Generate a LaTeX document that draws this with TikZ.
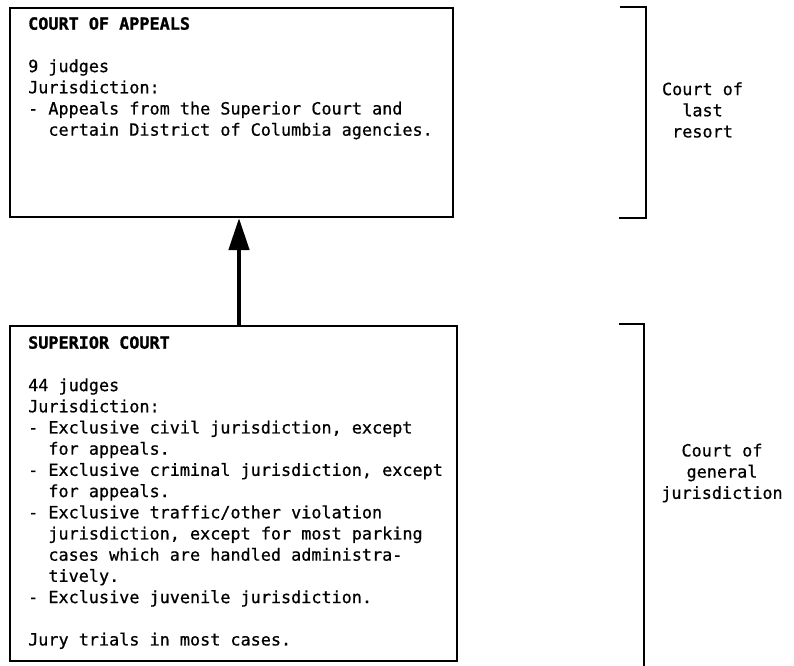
\documentclass[tikz,border=0pt]{standalone}
\usepackage{fontspec}
\newfontfamily\courtfont[FakeBold=0.7,BoldFeatures={FakeBold=1.2}]{DejaVu Sans Mono}
\usetikzlibrary{arrows.meta}
\begin{document}
\begin{tikzpicture}[x=1pt,y=-1pt,
  every node/.style={font=\courtfont\fontsize{16.8}{21.2}\selectfont},
  courtbox/.style={draw,line width=2pt,rectangle,inner sep=0pt},
  boxtext/.style={anchor=north west,align=left,inner sep=0pt},
  bracket/.style={line width=2.4pt},
  tierlabel/.style={align=center,inner sep=0pt},
  appeal/.style={line width=4.5pt,-{Triangle[width=20pt,length=32pt]}}]
\useasboundingbox (0,0) rectangle (794,665);

% court boxes
\node[courtbox,minimum width=443pt,minimum height=209pt] (appeals) at (231.5,112.5) {};
\node[courtbox,minimum width=447pt,minimum height=335pt] (superior) at (233.5,493.5) {};

% box contents
\node[boxtext] (appealstext) at (28,17) {%
{\bfseries COURT OF APPEALS}\\[21.2pt]
9 judges\\
Jurisdiction:\\
- Appeals from the Superior Court and\\
\phantom{- }certain District of Columbia agencies.};

\node[boxtext] (superiortext) at (28,336) {%
{\bfseries SUPERIOR COURT}\\[21.2pt]
44 judges\\
Jurisdiction:\\
- Exclusive civil jurisdiction, except\\
\phantom{- }for appeals.\\
- Exclusive criminal jurisdiction, except\\
\phantom{- }for appeals.\\
- Exclusive traffic/other violation\\
\phantom{- }jurisdiction, except for most parking\\
\phantom{- }cases which are handled administra-\\
\phantom{- }tively.\\
- Exclusive juvenile jurisdiction.\\[21.2pt]
Jury trials in most cases.};

% appeal route
\coordinate (route) at (239,0);
\draw[appeal] (route |- superior.north) -- (route |- appeals.south);

% tier brackets
\coordinate (lastA) at (620,7);
\coordinate (lastB) at (646,7);
\coordinate (lastC) at (646,218);
\coordinate (lastD) at (619,218);
\draw[bracket] (lastA) -- (lastB) -- (lastC) -- (lastD);
\node[tierlabel] (lastlabel) at (702.5,110) {Court of\\last\\resort};

\coordinate (genA) at (619,324);
\coordinate (genB) at (644,324);
\coordinate (genC) at (644,670);
\draw[bracket] (genA) -- (genB) -- (genC);
\node[tierlabel] (genlabel) at (722,473) {Court of\\general\\jurisdiction};
\end{tikzpicture}
\end{document}
